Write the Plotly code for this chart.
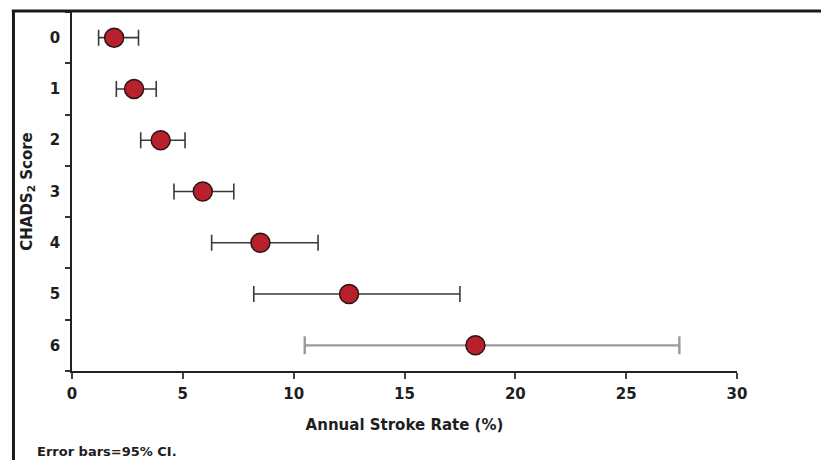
import plotly.graph_objects as go

# Data
scores = ["0", "1", "2", "3", "4", "5", "6"]
rate = [1.9, 2.8, 4.0, 5.9, 8.5, 12.5, 18.2]
ci_low = [1.2, 2.0, 3.1, 4.6, 6.3, 8.2, 10.5]
ci_high = [3.0, 3.8, 5.1, 7.3, 11.1, 17.5, 27.4]
x_ticks = [0, 5, 10, 15, 20, 25, 30]

FONT = "DejaVu Sans"
TXT = "#1e1e1e"

ypos = list(range(len(scores)))
err_plus = [h - r for h, r in zip(ci_high, rate)]
err_minus = [r - l for r, l in zip(rate, ci_low)]

fig = go.Figure()

# rows 0-5 (dark error bars)
n = len(scores) - 1
fig.add_trace(go.Scatter(
    x=rate[:n], y=ypos[:n], mode="markers",
    marker=dict(size=19, color="#B8202C", line=dict(color="#2a1414", width=1.5)),
    error_x=dict(type="data", symmetric=False, array=err_plus[:n], arrayminus=err_minus[:n],
                 color="#3a3a3a", thickness=1.6, width=8),
    showlegend=False, hoverinfo="skip",
))
# row 6 (light grey error bar)
fig.add_trace(go.Scatter(
    x=rate[n:], y=ypos[n:], mode="markers",
    marker=dict(size=19, color="#B8202C", line=dict(color="#2a1414", width=1.5)),
    error_x=dict(type="data", symmetric=False, array=err_plus[n:], arrayminus=err_minus[n:],
                 color="#9a9a9a", thickness=2.4, width=9),
    showlegend=False, hoverinfo="skip",
))

fig.update_layout(
    width=829, height=460,
    margin=dict(l=64, r=100, t=4, b=97),
    paper_bgcolor="white", plot_bgcolor="white",
    font=dict(family=FONT, color=TXT, size=15, weight="bold"),
    xaxis=dict(
        range=[0, 30], tickvals=x_ticks, ticktext=[str(v) for v in x_ticks],
        ticks="outside", ticklen=6, tickwidth=1.5, tickcolor="#444",
        showline=True, linecolor="#222", linewidth=1.6, mirror=False,
        showgrid=False, zeroline=False, ticklabelstandoff=2,
        tickfont=dict(family=FONT, size=15, color=TXT, weight="bold"),
        title=dict(text="Annual Stroke Rate (%)", font=dict(family=FONT, size=15, color=TXT, weight="bold"), standoff=18),
    ),
    yaxis=dict(
        range=[6.5, -0.5], tickvals=ypos, ticktext=scores, ticks="",
        minor=dict(tickmode="array", tickvals=[i - 0.5 for i in range(len(scores) + 1)],
                   ticks="outside", ticklen=5, tickwidth=1.5, tickcolor="#333", showgrid=False),
        showline=True, linecolor="#222", linewidth=1.6,
        showgrid=False, zeroline=False, ticklabelstandoff=7,
        tickfont=dict(family=FONT, size=15, color=TXT, weight="bold"),
        title=dict(text="CHADS<sub>2</sub> Score", font=dict(family=FONT, size=15, color=TXT, weight="bold"), standoff=14),
    ),
    shapes=[
        dict(type="line", xref="paper", yref="paper", x0=-0.088, x1=-0.088, y0=-0.3, y1=1.004,
             line=dict(color="#1a1a1a", width=3)),
        dict(type="line", xref="paper", yref="paper", x0=-0.0905, x1=1.16, y0=1.003, y1=1.003,
             line=dict(color="#1a1a1a", width=3)),
    ],
    annotations=[
        dict(text="Error bars=95% CI.", xref="paper", yref="paper", x=-0.0556, y=-0.2256,
             xanchor="left", yanchor="middle", showarrow=False,
             font=dict(family=FONT, size=13, color=TXT, weight="bold")),
    ],
)

fig.write_html("out.html")
